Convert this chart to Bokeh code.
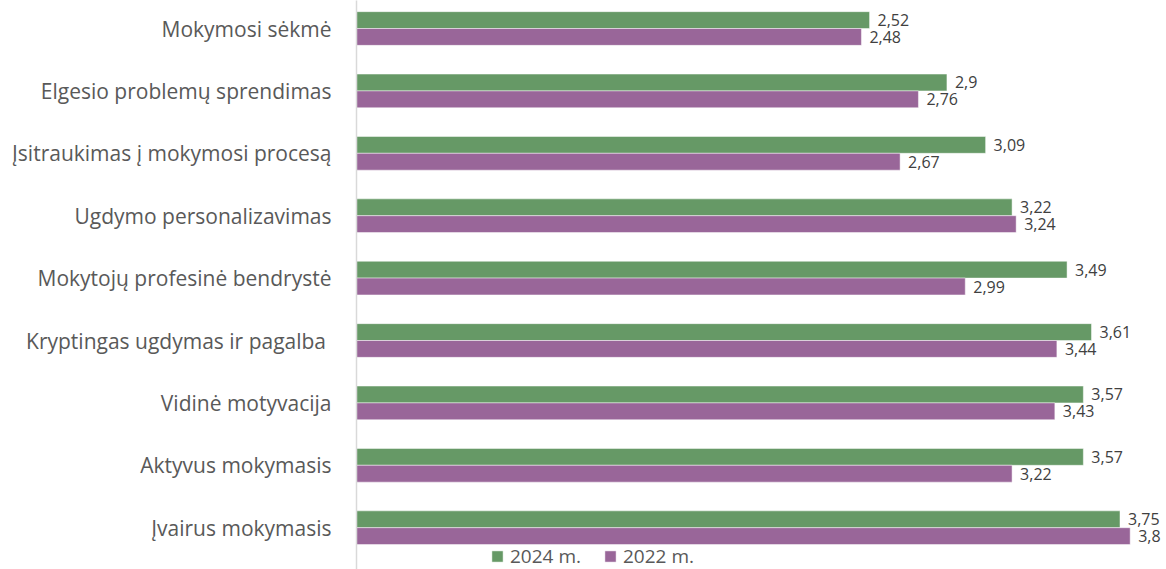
from bokeh.plotting import figure
from bokeh.models import ColumnDataSource, Range1d, Legend, LegendItem, FixedTicker
from bokeh.embed import file_html
from bokeh.resources import INLINE
from bokeh.core.properties import value

categories = [
    "Mokymosi sėkmė",
    "Elgesio problemų sprendimas",
    "Įsitraukimas į mokymosi procesą",
    "Ugdymo personalizavimas",
    "Mokytojų profesinė bendrystė",
    "Kryptingas ugdymas ir pagalba ",
    "Vidinė motyvacija",
    "Aktyvus mokymasis",
    "Įvairus mokymasis",
]
v2024 = [2.52, 2.9, 3.09, 3.22, 3.49, 3.61, 3.57, 3.57, 3.75]
v2022 = [2.48, 2.76, 2.67, 3.24, 2.99, 3.44, 3.43, 3.22, 3.8]
series_names = ["2024 m.", "2022 m."]

GREEN = "#669966"
PURPLE = "#996699"
FONT = "Open Sans"


def fmt(v):
    return f"{v:g}".replace(".", ",")


n = len(categories)
ypos = [n - 1 - i for i in range(n)]  # first category at the top
off = 0.135
bh = 0.27

src = ColumnDataSource(dict(
    y24=[y + off for y in ypos],
    y22=[y - off for y in ypos],
    v24=v2024,
    v22=v2022,
    l24=[fmt(v) for v in v2024],
    l22=[fmt(v) for v in v2022],
))

W, H = 1166, 569
LEFT = 356
p = figure(
    width=W, height=H,
    y_range=Range1d(-0.67, n - 0.5 - 0.051),
    x_range=Range1d(0, (W - LEFT) / 203.6),
    output_backend="svg", toolbar_location=None,
    min_border_left=LEFT, min_border_right=0, min_border_top=0, min_border_bottom=0,
)

r24 = p.hbar(y="y24", left=0, right="v24", height=bh, source=src,
             fill_color=GREEN, line_color="#ffffff", line_width=0.8, line_alpha=0.6)
r22 = p.hbar(y="y22", left=0, right="v22", height=bh, source=src,
             fill_color=PURPLE, line_color="#ffffff", line_width=0.8, line_alpha=0.6)

for col, ycol, lab in (("v24", "y24", "l24"), ("v22", "y22", "l22")):
    p.text(x=col, y=ycol, text=lab, source=src,
           x_offset=8, text_baseline="middle", text_align="left",
           text_font=value(FONT), text_font_size="16px", text_color="#404040")

p.xaxis.visible = False
p.xgrid.visible = False
p.ygrid.visible = False
p.outline_line_color = None

ya = p.yaxis[0]
ya.ticker = FixedTicker(ticks=ypos)
ya.major_label_overrides = {y: c for y, c in zip(ypos, categories)}
ya.major_tick_line_color = None
ya.minor_tick_line_color = None
ya.axis_line_color = "#d9d9d9"
ya.axis_line_width = 1.5
ya.major_label_standoff = 19
ya.major_label_text_font = FONT
ya.major_label_text_font_size = "21px"
ya.major_label_text_color = "#595959"

legend = Legend(
    items=[LegendItem(label=series_names[0], renderers=[r24]),
           LegendItem(label=series_names[1], renderers=[r22])],
    orientation="horizontal", location=(134, 0),
    glyph_width=14, glyph_height=14, label_height=12, label_standoff=6, spacing=22,
    padding=0, margin=0, border_line_color=None, background_fill_alpha=0,
    label_text_font=FONT, label_text_font_size="19px", label_text_color="#595959",
)
p.add_layout(legend, "center")

open("out.html", "w").write(file_html(p, INLINE))
